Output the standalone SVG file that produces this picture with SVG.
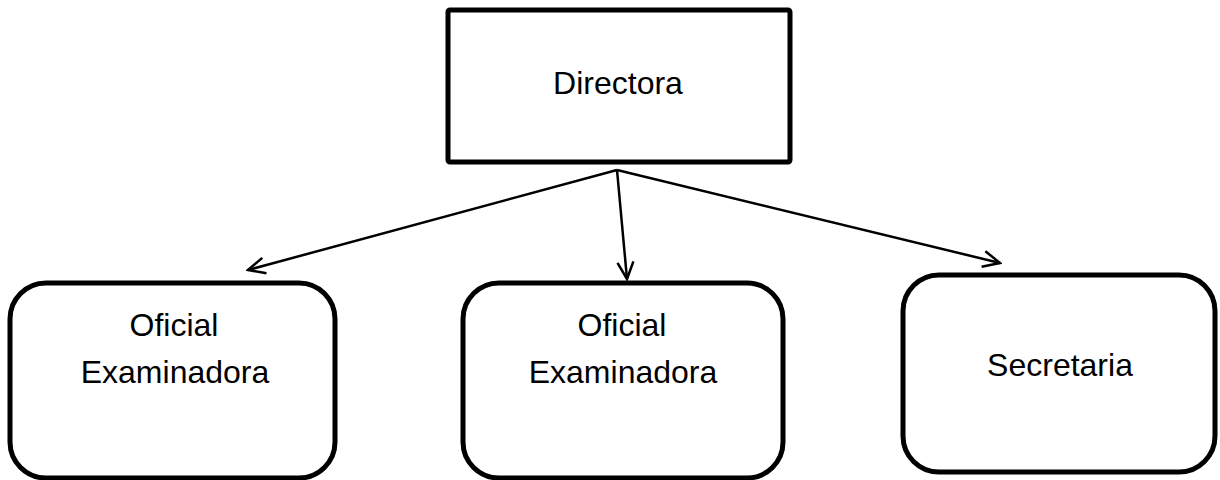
<svg xmlns="http://www.w3.org/2000/svg" width="1220" height="480" viewBox="0 0 1220 480">
<style>
.box{fill:#fff;stroke:#000;stroke-width:5}
.lbl{font-family:"Liberation Sans",Arial,sans-serif;font-size:32px;fill:#000;text-anchor:middle}
.con{stroke:#000;stroke-width:2.5;fill:none;marker-end:url(#arr)}
</style>
<defs>
<marker id="arr" viewBox="0 0 20 20" refX="18" refY="10" markerWidth="20" markerHeight="20" markerUnits="userSpaceOnUse" orient="auto">
<path d="M1,2 L18,10 L1,18" fill="none" stroke="#000" stroke-width="2.5"/>
</marker>
</defs>
<rect width="1220" height="480" fill="#fff"/>
<g id="connectors">
<line class="con" x1="617" y1="170" x2="248" y2="270"/>
<line class="con" x1="617" y1="170" x2="627" y2="279"/>
<line class="con" x1="617" y1="170" x2="1000" y2="263"/>
</g>
<g id="directora">
<rect class="box" x="448" y="10" width="342" height="152" rx="2"/>
<text class="lbl" x="618" y="94">Directora</text>
</g>
<g id="oficial1">
<rect class="box" x="10" y="283" width="325" height="195" rx="36"/>
<text class="lbl" x="174" y="336">Oficial</text>
<text class="lbl" x="175" y="383">Examinadora</text>
</g>
<g id="oficial2">
<rect class="box" x="463" y="283" width="320" height="195" rx="36"/>
<text class="lbl" x="622" y="336">Oficial</text>
<text class="lbl" x="623" y="383">Examinadora</text>
</g>
<g id="secretaria">
<rect class="box" x="903" y="275" width="312" height="197" rx="36"/>
<text class="lbl" x="1060" y="376">Secretaria</text>
</g>
</svg>
